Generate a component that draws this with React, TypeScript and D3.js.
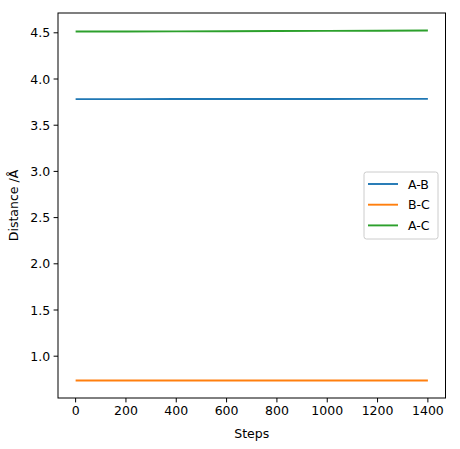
import React from "react";
import * as d3 from "d3";

const steps = [0, 200, 400, 600, 800, 1000, 1200, 1400];
const abValues = [3.782, 3.782, 3.783, 3.783, 3.784, 3.784, 3.785, 3.785];
const bcValues = [0.737, 0.737, 0.737, 0.737, 0.737, 0.737, 0.737, 0.737];
const acValues = [4.514, 4.514, 4.515, 4.517, 4.519, 4.521, 4.523, 4.525];
const seriesNames = ["A-B", "B-C", "A-C"];
const seriesColors = ["#1f77b4", "#ff7f0e", "#2ca02c"];
const xTicks = [0, 200, 400, 600, 800, 1000, 1200, 1400];
const yTicks = [1.0, 1.5, 2.0, 2.5, 3.0, 3.5, 4.0, 4.5];

const W = 460, H = 449;
const L = 58, R = 445.5, T = 13, B = 398;
const FS = 12.5;
const FONT = "DejaVu Sans, sans-serif";

export default function App() {
  const all = [abValues, bcValues, acValues];
  const xmin = d3.min(steps)!, xmax = d3.max(steps)!;
  const ymin = d3.min(all.flat())!, ymax = d3.max(all.flat())!;
  const dx = (xmax - xmin) * 0.05, dy = (ymax - ymin) * 0.05;
  const x = d3.scaleLinear().domain([xmin - dx, xmax + dx]).range([L, R]);
  const y = d3.scaleLinear().domain([ymin - dy, ymax + dy]).range([B, T]);
  const line = d3.line<number>().x((_, i) => x(steps[i])).y((d) => y(d));
  const tl = 4.4;
  return (
    <svg width={W} height={H} style={{ position: "absolute", left: 0, top: 0, background: "#fff" }} fontFamily={FONT}>
      <rect x={0} y={0} width={W} height={H} fill="#fff" />
      {all.map((vals, i) => (
        <path key={i} d={line(vals)!} fill="none" stroke={seriesColors[i]} strokeWidth={1.9} />
      ))}
      <rect x={L} y={T} width={R - L} height={B - T} fill="none" stroke="#000" strokeWidth={1} />
      {xTicks.map((t) => (
        <g key={t} transform={`translate(${x(t)},${B})`}>
          <line y2={tl} stroke="#000" strokeWidth={1} />
          <text y={tl + 3.5 + FS * 0.76} textAnchor="middle" fontSize={FS} fill="#000">{t}</text>
        </g>
      ))}
      {yTicks.map((t) => (
        <g key={t} transform={`translate(${L},${y(t)})`}>
          <line x2={-tl} stroke="#000" strokeWidth={1} />
          <text x={-tl - 3.5} dy="0.36em" textAnchor="end" fontSize={FS} fill="#000">{t.toFixed(1)}</text>
        </g>
      ))}
      <text x={(L + R) / 2} y={438} textAnchor="middle" fontSize={FS} fill="#000">Steps</text>
      <text transform={`translate(18,${(T + B) / 2}) rotate(-90)`} textAnchor="middle" fontSize={FS} fill="#000">Distance /Å</text>
      <g>
        <rect x={364} y={172} width={74} height={67} rx={2.5} fill="#fff" fillOpacity={0.8} stroke="#ccc" strokeWidth={1} />
        {seriesNames.map((n, i) => (
          <g key={n} transform={`translate(0,${184 + i * 20.7})`}>
            <line x1={368} x2={398} stroke={seriesColors[i]} strokeWidth={1.9} />
            <text x={408} dy="0.36em" fontSize={FS} fill="#000">{n}</text>
          </g>
        ))}
      </g>
    </svg>
  );
}
